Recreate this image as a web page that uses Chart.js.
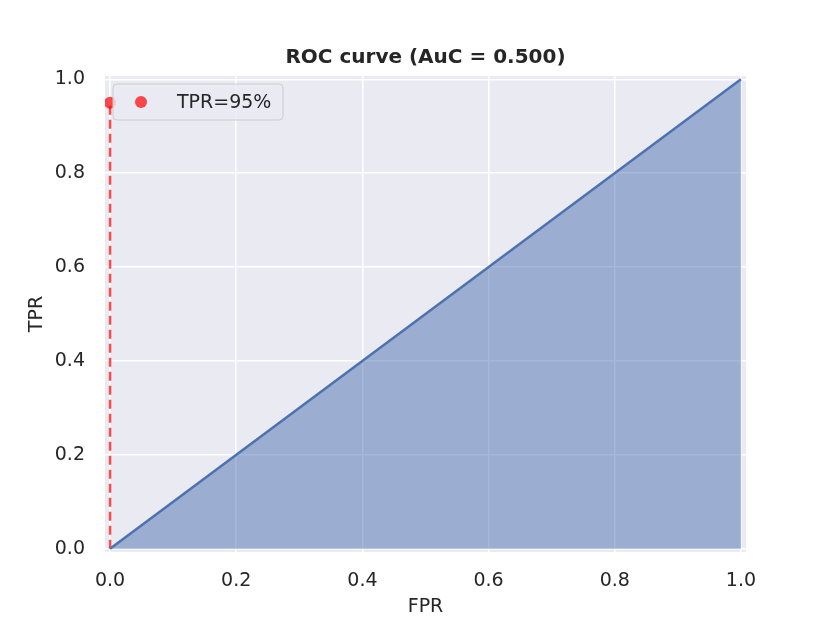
<!DOCTYPE html>
<html>
<head>
<meta charset="utf-8">
<script src="https://cdn.jsdelivr.net/npm/chart.js@4"></script>
<style>
  html, body { margin: 0; padding: 0; background: #fff; }
  #wrap { width: 830px; height: 623px; }
</style>
</head>
<body>
<div id="wrap"><canvas id="rocChart" width="830" height="623"></canvas></div>
<script>
// data
var fpr = [0, 1];
var tpr = [0, 1];
var cutFpr = [0, 0];
var cutTpr = [0, 0.95];
var tickValues = [0, 0.2, 0.4, 0.6, 0.8, 1.0];
var titleText = "ROC curve (AuC = 0.500)";
var legendText = "TPR=95%";

var FONT = "'DejaVu Sans', sans-serif";

function pts(xs, ys) {
  var out = [];
  for (var i = 0; i < xs.length; i++) out.push({x: xs[i], y: ys[i]});
  return out;
}

// plot background, title and in-plot legend
var decor = {
  id: 'decor',
  beforeDraw: function(chart) {
    var a = chart.chartArea, ctx = chart.ctx;
    ctx.save();
    ctx.fillStyle = '#eaeaf2';
    ctx.fillRect(a.left, a.top, a.right - a.left, a.bottom - a.top);
    ctx.restore();
  },
  afterDraw: function(chart) {
    var a = chart.chartArea, ctx = chart.ctx;
    ctx.save();
    ctx.fillStyle = '#262626';
    ctx.font = 'bold 20px ' + FONT;
    ctx.textAlign = 'center';
    ctx.textBaseline = 'middle';
    ctx.fillText(titleText, (a.left + a.right) / 2, a.top - 18);

    // legend box
    var bx = a.left + 8, by = a.top + 8, bw = 170, bh = 36, r = 4;
    ctx.beginPath();
    ctx.moveTo(bx + r, by);
    ctx.arcTo(bx + bw, by, bx + bw, by + bh, r);
    ctx.arcTo(bx + bw, by + bh, bx, by + bh, r);
    ctx.arcTo(bx, by + bh, bx, by, r);
    ctx.arcTo(bx, by, bx + bw, by, r);
    ctx.closePath();
    ctx.fillStyle = 'rgba(234,234,242,0.8)';
    ctx.fill();
    ctx.strokeStyle = '#cccccc';
    ctx.lineWidth = 1;
    ctx.stroke();

    ctx.beginPath();
    ctx.arc(bx + 28, by + bh / 2, 6, 0, Math.PI * 2);
    ctx.fillStyle = 'rgba(255,0,0,0.7)';
    ctx.fill();

    ctx.fillStyle = '#262626';
    ctx.font = '19px ' + FONT;
    ctx.textAlign = 'left';
    ctx.fillText(legendText, bx + 64, by + bh / 2 + 1);
    ctx.restore();
  }
};

new Chart(document.getElementById('rocChart'), {
  type: 'scatter',
  data: {
    datasets: [
      {
        label: 'ROC',
        data: pts(fpr, tpr),
        showLine: true,
        fill: 'origin',
        backgroundColor: 'rgba(76,114,176,0.5)',
        borderColor: '#4c72b0',
        borderWidth: 2.5,
        pointRadius: 0
      },
      {
        label: 'cut',
        data: pts(cutFpr, cutTpr),
        showLine: true,
        fill: false,
        borderColor: 'rgba(255,0,0,0.7)',
        borderWidth: 2.5,
        borderDash: [9, 5],
        pointRadius: 0
      },
      {
        label: legendText,
        data: [{x: cutFpr[1], y: cutTpr[1]}],
        showLine: false,
        backgroundColor: 'rgba(255,0,0,0.7)',
        borderWidth: 0,
        pointRadius: 6
      }
    ]
  },
  options: {
    responsive: false,
    animation: false,
    layout: { padding: { top: 76, right: 84, left: 0, bottom: 0 } },
    plugins: {
      legend: { display: false },
      tooltip: { enabled: false }
    },
    scales: {
      x: {
        type: 'linear',
        min: -0.008,
        max: 1.008,
        afterBuildTicks: function(s) { s.ticks = tickValues.map(function(v) { return {value: v}; }); },
        afterFit: function(s) { s.height = 71; },
        grid: { color: '#ffffff', lineWidth: 1.5, drawTicks: false },
        border: { display: false },
        ticks: {
          padding: 18,
          color: '#262626',
          font: { family: FONT, size: 19 },
          callback: function(v) { return v.toFixed(1); }
        },
        title: {
          display: true,
          text: 'FPR',
          color: '#262626',
          font: { family: FONT, size: 19 },
          padding: { top: 0, bottom: 5 }
        }
      },
      y: {
        type: 'linear',
        min: -0.007,
        max: 1.007,
        afterBuildTicks: function(s) { s.ticks = tickValues.map(function(v) { return {value: v}; }); },
        afterFit: function(s) { s.width = 105; },
        grid: { color: '#ffffff', lineWidth: 1.5, drawTicks: false },
        border: { display: false },
        ticks: {
          padding: 20,
          color: '#262626',
          font: { family: FONT, size: 19 },
          callback: function(v) { return v.toFixed(1); }
        },
        title: {
          display: true,
          text: 'TPR',
          color: '#262626',
          font: { family: FONT, size: 19 },
          padding: { top: 26, bottom: 0 }
        }
      }
    }
  },
  plugins: [decor]
});
</script>
</body>
</html>
